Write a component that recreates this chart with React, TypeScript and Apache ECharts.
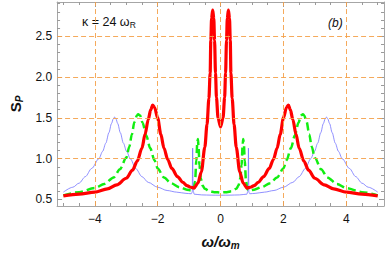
import React, { useEffect, useRef } from "react";
import * as echarts from "echarts";

// ---- axis ranges & ticks ----
const X_MIN = -5.2;
const X_MAX = 5.2;
const Y_MIN = 0.42;
const Y_MAX = 2.92;
const xMajor = [-4, -2, 0, 2, 4];
const xMinor = [-5, -4.5, -3.5, -3, -2.5, -1.5, -1, -0.5, 0.5, 1, 1.5, 2.5, 3, 3.5, 4.5, 5];
const yMajor = [0.5, 1.0, 1.5, 2.0, 2.5];
const yMinor = [0.6, 0.7, 0.8, 0.9, 1.1, 1.2, 1.3, 1.4, 1.6, 1.7, 1.8, 1.9, 2.1, 2.2, 2.3, 2.4, 2.6, 2.7, 2.8, 2.9];
const gridX = [-4, -2, 0, 2, 4];
const gridY = [1.0, 1.5, 2.0, 2.5];

// ---- series ----
const blueData = [
  [-5.0, 0.59], [-4.7, 0.65], [-4.5, 0.7], [-4.3, 0.78], [-4.1, 0.88], [-3.87, 1.0], [-3.75, 1.09],
  [-3.65, 1.19], [-3.55, 1.32], [-3.47, 1.43], [-3.41, 1.49], [-3.37, 1.51], [-3.33, 1.49],
  [-3.27, 1.43], [-3.19, 1.32], [-3.09, 1.19], [-2.99, 1.09], [-2.87, 1.0], [-2.7, 0.88],
  [-2.5, 0.78], [-2.3, 0.71], [-2.0, 0.65], [-1.7, 0.61], [-1.4, 0.59], [-1.1, 0.575],
  [-0.93, 0.57], [-0.9, 0.59], [-0.887, 1.13], [-0.878, 0.72], [-0.865, 0.6], [-0.84, 0.565],
  [-0.6, 0.556], [-0.3, 0.553], [0, 0.552],
  [0.3, 0.553], [0.6, 0.556], [0.84, 0.565], [0.865, 0.6], [0.878, 0.72], [0.887, 1.13],
  [0.9, 0.59], [0.93, 0.57], [1.1, 0.575], [1.4, 0.59], [1.7, 0.61], [2.0, 0.65], [2.3, 0.71],
  [2.5, 0.78], [2.7, 0.88], [2.87, 1.0], [2.99, 1.09], [3.09, 1.19], [3.19, 1.32], [3.27, 1.43],
  [3.33, 1.49], [3.37, 1.51], [3.41, 1.49], [3.47, 1.43], [3.55, 1.32], [3.65, 1.19], [3.75, 1.09],
  [3.87, 1.0], [4.1, 0.88], [4.3, 0.78], [4.5, 0.7], [4.7, 0.65], [5.0, 0.59],
];

const greenData = [
  [-5.0, 0.55], [-4.5, 0.59], [-4.0, 0.64], [-3.7, 0.69], [-3.4, 0.77], [-3.2, 0.87], [-3.0, 1.01],
  [-2.9, 1.15], [-2.82, 1.3], [-2.74, 1.45], [-2.66, 1.53], [-2.62, 1.545], [-2.56, 1.53],
  [-2.48, 1.44], [-2.36, 1.28], [-2.24, 1.13], [-2.1, 0.98], [-2.0, 0.88], [-1.8, 0.77],
  [-1.58, 0.7], [-1.3, 0.65], [-1.07, 0.62], [-0.92, 0.61], [-0.86, 0.62], [-0.81, 0.72],
  [-0.77, 0.98], [-0.74, 1.2], [-0.72, 1.24], [-0.7, 1.15], [-0.67, 0.92], [-0.63, 0.76],
  [-0.57, 0.67], [-0.5, 0.63], [-0.35, 0.6], [-0.2, 0.59], [0, 0.585],
  [0.2, 0.59], [0.35, 0.6], [0.5, 0.63], [0.57, 0.67], [0.63, 0.76], [0.67, 0.92], [0.7, 1.15],
  [0.72, 1.24], [0.74, 1.2], [0.77, 0.98], [0.81, 0.72], [0.86, 0.62], [0.92, 0.61], [1.07, 0.62],
  [1.3, 0.65], [1.58, 0.7], [1.8, 0.77], [2.0, 0.88], [2.1, 0.98], [2.24, 1.13], [2.36, 1.28],
  [2.48, 1.44], [2.56, 1.53], [2.62, 1.545], [2.66, 1.53], [2.74, 1.45], [2.82, 1.3], [2.9, 1.15],
  [3.0, 1.01], [3.2, 0.87], [3.4, 0.77], [3.7, 0.69], [4.0, 0.64], [4.5, 0.59], [5.0, 0.55],
];

const redData = [
  [-5.0, 0.545], [-4.5, 0.565], [-4.0, 0.59], [-3.6, 0.63], [-3.3, 0.68], [-3.0, 0.76], [-2.8, 0.86],
  [-2.65, 0.97], [-2.5, 1.13], [-2.4, 1.3], [-2.3, 1.48], [-2.22, 1.6], [-2.16, 1.655], [-2.1, 1.63],
  [-2.0, 1.5], [-1.9, 1.3], [-1.8, 1.13], [-1.68, 0.99], [-1.55, 0.88], [-1.37, 0.78], [-1.2, 0.71],
  [-1.07, 0.67], [-0.95, 0.65], [-0.84, 0.64], [-0.72, 0.7], [-0.61, 0.84], [-0.5, 1.14],
  [-0.43, 1.42], [-0.37, 1.74], [-0.33, 2.05], [-0.31, 2.45], [-0.285, 2.72], [-0.25, 2.82],
  [-0.215, 2.72], [-0.19, 2.45], [-0.16, 2.05], [-0.13, 1.75], [-0.08, 1.5], [0, 1.39],
  [0.08, 1.5], [0.13, 1.75], [0.16, 2.05], [0.19, 2.45], [0.215, 2.72], [0.25, 2.82], [0.285, 2.72],
  [0.31, 2.45], [0.33, 2.05], [0.37, 1.74], [0.43, 1.42], [0.5, 1.14], [0.61, 0.84], [0.72, 0.7],
  [0.84, 0.64], [0.95, 0.65], [1.07, 0.67], [1.2, 0.71], [1.37, 0.78], [1.55, 0.88], [1.68, 0.99],
  [1.8, 1.13], [1.9, 1.3], [2.0, 1.5], [2.1, 1.63], [2.16, 1.655], [2.22, 1.6], [2.3, 1.48],
  [2.4, 1.3], [2.5, 1.13], [2.65, 0.97], [2.8, 0.86], [3.0, 0.76], [3.3, 0.68], [3.6, 0.63],
  [4.0, 0.59], [4.5, 0.565], [5.0, 0.545],
];

const FONT = "Liberation Sans, Arial, sans-serif";
const FRAME = "#a6a6a6";
const TICK = "#9a9a9a";

const fmtX = (v: number) => (v < 0 ? "\u2212" + Math.abs(v) : String(v));
const fmtY = (v: number) => v.toFixed(1);

function xAx(pos: "bottom" | "top", major: boolean, extra: any = {}) {
  return {
    type: "value",
    position: pos,
    min: X_MIN,
    max: X_MAX,
    axisLine: { show: major, onZero: false, lineStyle: { color: FRAME, width: 1 } },
    axisTick: {
      show: true,
      inside: true,
      length: major ? 5 : 3,
      customValues: major ? xMajor : xMinor,
      lineStyle: { color: TICK, width: 1 },
    },
    axisLabel: { show: false },
    splitLine: { show: false },
    ...extra,
  };
}

function yAx(pos: "left" | "right", major: boolean, extra: any = {}) {
  return {
    type: "value",
    position: pos,
    min: Y_MIN,
    max: Y_MAX,
    axisLine: { show: major, onZero: false, lineStyle: { color: FRAME, width: 1 } },
    axisTick: {
      show: true,
      inside: true,
      length: major ? 5 : 3,
      customValues: major ? yMajor : yMinor,
      lineStyle: { color: TICK, width: 1 },
    },
    axisLabel: { show: false },
    splitLine: { show: false },
    ...extra,
  };
}

export default function App() {
  const ref = useRef<HTMLDivElement>(null);
  useEffect(() => {
    if (!ref.current) return;
    const chart = echarts.init(ref.current, null, { renderer: "svg" });
    chart.setOption({
      animation: false,
      backgroundColor: "#ffffff",
      textStyle: { fontFamily: FONT },
      grid: { left: 45, right: 4, top: 2, bottom: 45 },
      xAxis: [
        xAx("bottom", true, {
          axisLabel: {
            show: true,
            customValues: xMajor,
            formatter: fmtX,
            color: "#111",
            fontSize: 12,
            fontFamily: FONT,
            margin: 7,
          },
          name: "{a|\u03c9/\u03c9}{s|m}",
          nameLocation: "middle",
          nameGap: 26,
          nameTextStyle: {
            rich: {
              a: { fontSize: 15, fontWeight: "bold", fontStyle: "italic", fontFamily: FONT, lineHeight: 18, color: "#111" },
              s: { fontSize: 10, fontWeight: "bold", fontStyle: "italic", fontFamily: FONT, verticalAlign: "bottom", color: "#111" },
            },
          },
        }),
        xAx("bottom", false),
        xAx("top", true),
        xAx("top", false),
      ],
      yAxis: [
        yAx("left", true, {
          axisLabel: {
            show: true,
            customValues: yMajor,
            formatter: fmtY,
            color: "#111",
            fontSize: 12,
            fontFamily: FONT,
            margin: 5,
          },
          name: "{a|S}{s|P}",
          nameLocation: "middle",
          nameGap: 27,
          nameRotate: 90,
          nameTextStyle: {
            rich: {
              a: { fontSize: 15, fontWeight: "bold", fontFamily: FONT, lineHeight: 18, color: "#111" },
              s: { fontSize: 10, fontWeight: "bold", fontStyle: "italic", fontFamily: FONT, verticalAlign: "bottom", color: "#111" },
            },
          },
        }),
        yAx("left", false),
        yAx("right", true),
        yAx("right", false),
      ],
      graphic: [
        {
          type: "text",
          x: 82,
          y: 22,
          style: {
            text: "{n|\u03ba = 24 \u03c9}{s|R}",
            verticalAlign: "middle",
            rich: {
              n: { fontSize: 12.5, fontFamily: FONT, lineHeight: 15, fill: "#111" },
              s: { fontSize: 8.5, fontFamily: FONT, verticalAlign: "bottom", fill: "#111" },
            },
          },
        },
        {
          type: "text",
          x: 328,
          y: 23,
          style: {
            text: "(b)",
            verticalAlign: "middle",
            font: "italic 12px " + FONT,
            fill: "#111",
          },
        },
      ],
      series: [
        {
          type: "line",
          data: [],
          z: 1,
          silent: true,
          markLine: {
            silent: true,
            symbol: ["none", "none"],
            label: { show: false },
            lineStyle: { color: "#f4a14a", type: [5, 3], width: 1, opacity: 0.9 },
            data: [
              ...gridX.map((v) => ({ xAxis: v })),
              ...gridY.map((v) => ({ yAxis: v })),
            ],
          },
        },
        {
          type: "line",
          data: blueData,
          z: 2,
          showSymbol: false,
          smooth: 0.3,
          smoothMonotone: "x",
          lineStyle: { color: "#7373ff", width: 0.8 },
        },
        {
          type: "line",
          data: greenData,
          z: 3,
          showSymbol: false,
          smooth: 0.3,
          smoothMonotone: "x",
          lineStyle: { color: "#11ee11", width: 2.5, type: [8, 4] },
        },
        {
          type: "line",
          data: redData,
          z: 4,
          showSymbol: false,
          smooth: 0.3,
          smoothMonotone: "x",
          lineStyle: { color: "#ff0000", width: 3.2 },
        },
      ],
    });
    return () => chart.dispose();
  }, []);
  return (
    <div
      ref={ref}
      style={{ position: "fixed", left: 0, top: 0, width: 388, height: 255, background: "#fff" }}
    />
  );
}
